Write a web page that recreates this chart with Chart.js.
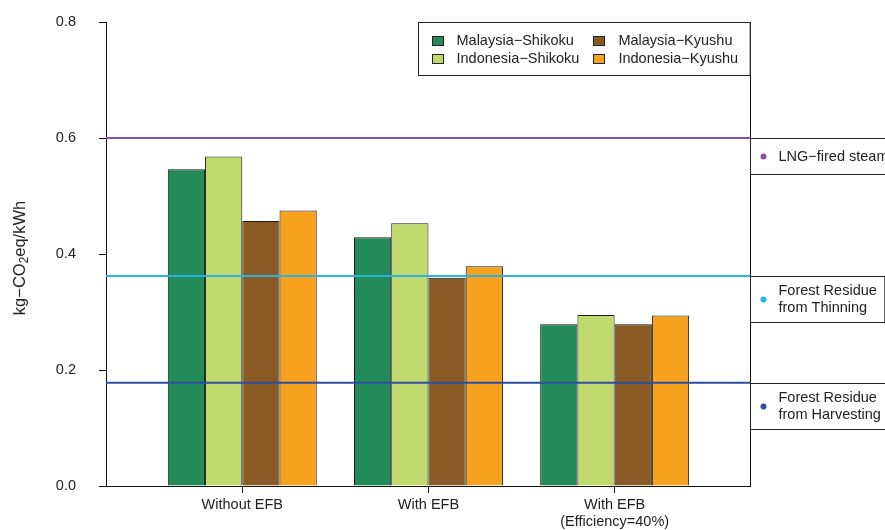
<!DOCTYPE html>
<html>
<head>
<meta charset="utf-8">
<script src="https://cdn.jsdelivr.net/npm/chart.js@4/dist/chart.umd.min.js"></script>
<style>
  html, body { margin: 0; padding: 0; background: #fff; }
  #wrap { width: 885px; height: 530px; position: relative; }
</style>
</head>
<body>
<div id="wrap"><canvas id="c" width="885" height="530"></canvas></div>
<script>
// Scenario groups on the x axis
const categories = [['Without EFB'], ['With EFB'], ['With EFB', '(Efficiency=40%)']];

// Emission intensity per supply route (kg-CO2eq/kWh)
const seriesNames = ['Malaysia\u2212Shikoku', 'Indonesia\u2212Shikoku', 'Malaysia\u2212Kyushu', 'Indonesia\u2212Kyushu'];
const malaysiaShikoku  = [0.546, 0.429, 0.279];
const indonesiaShikoku = [0.568, 0.453, 0.295];
const malaysiaKyushu   = [0.457, 0.359, 0.279];
const indonesiaKyushu  = [0.475, 0.379, 0.294];
const seriesColors = ['#238B57', '#BFD96C', '#8A5A25', '#F6A21E'];

// Reference generation options
const refNames  = [['LNG\u2212fired steam'], ['Forest Residue', 'from Thinning'], ['Forest Residue', 'from Harvesting']];
const refValues = [0.600, 0.362, 0.178];
const refColors = ['#8B4FA6', '#2BB3E6', '#2F4EA2'];

// y axis
const yTicks = [0.0, 0.2, 0.4, 0.6, 0.8];

const FONT = '"Liberation Sans", Arial, Helvetica, sans-serif';
const FS = 14.5;
const TXT = '#222';
const AXIS = '#111';

const seriesValues = [malaysiaShikoku, indonesiaShikoku, malaysiaKyushu, indonesiaKyushu];

const datasets = seriesValues.map((vals, i) => ({
  label: seriesNames[i],
  data: vals.map((v, j) => ({ x: j + 1, y: v })),
  backgroundColor: seriesColors[i],
  borderColor: '#1a1a1a',
  borderWidth: 1,
  borderSkipped: 'bottom',
  categoryPercentage: 0.8,
  barPercentage: 1.0
}));

const overlay = {
  id: 'overlay',
  afterDatasetsDraw(chart) {
    const ctx = chart.ctx;
    const a = chart.chartArea;
    const ys = chart.scales.y;
    ctx.save();
    // right frame line
    ctx.strokeStyle = AXIS;
    ctx.lineWidth = 1;
    ctx.beginPath();
    ctx.moveTo(Math.round(a.right) + 0.5, a.top);
    ctx.lineTo(Math.round(a.right) + 0.5, a.bottom);
    ctx.stroke();

    // reference lines
    refValues.forEach((v, i) => {
      const y = ys.getPixelForValue(v);
      ctx.strokeStyle = refColors[i];
      ctx.lineWidth = 2;
      ctx.beginPath();
      ctx.moveTo(a.left, y);
      ctx.lineTo(a.right, y);
      ctx.stroke();
    });

    // reference label boxes
    ctx.font = FS + 'px ' + FONT;
    ctx.textBaseline = 'middle';
    ctx.textAlign = 'left';
    refValues.forEach((v, i) => {
      const y = Math.round(ys.getPixelForValue(v)) + 0.5;
      const lines = refNames[i];
      const w = 28 + Math.max(...lines.map(t => ctx.measureText(t).width)) + 8;
      const h = lines.length === 1 ? 36 : 46;
      const x = Math.round(a.right) + 0.5;
      ctx.fillStyle = '#fff';
      ctx.fillRect(x, y, w, h);
      ctx.strokeStyle = '#222';
      ctx.lineWidth = 1;
      ctx.strokeRect(x, y, w, h);
      const cy = y + h / 2;
      ctx.fillStyle = refColors[i];
      ctx.beginPath();
      ctx.arc(x + 13, cy, 3, 0, Math.PI * 2);
      ctx.fill();
      ctx.fillStyle = TXT;
      const lh = 17.5;
      lines.forEach((t, k) => {
        ctx.fillText(t, x + 28, cy + (k - (lines.length - 1) / 2) * lh);
      });
    });

    // legend box
    const rows = [[0, 2], [1, 3]];
    const col1W = Math.max(ctx.measureText(seriesNames[0]).width, ctx.measureText(seriesNames[1]).width);
    const col2W = Math.max(ctx.measureText(seriesNames[2]).width, ctx.measureText(seriesNames[3]).width);
    const pad = 13, sw = 11, gap = 25, colGap = 14;
    const lw = pad + gap + col1W + colGap + gap + col2W + 12;
    const lx = Math.round(a.right - lw) + 0.5;
    const ly = Math.round(a.top) + 0.5;
    const lhgt = 53;
    ctx.fillStyle = '#fff';
    ctx.fillRect(lx, ly, lw, lhgt);
    ctx.strokeStyle = '#222';
    ctx.strokeRect(lx, ly, lw, lhgt);
    const colX = [lx + pad, lx + pad + gap + col1W + colGap];
    const rowY = [ly + 18, ly + 36];
    rows.forEach((r, ri) => {
      r.forEach((si, ci) => {
        const sx = Math.round(colX[ci]) + 0.5;
        const sy = Math.round(rowY[ri] - 4.5) + 0.5;
        ctx.fillStyle = seriesColors[si];
        ctx.fillRect(sx, sy, sw, 9);
        ctx.strokeStyle = '#222';
        ctx.strokeRect(sx, sy, sw, 9);
        ctx.fillStyle = TXT;
        ctx.fillText(seriesNames[si], colX[ci] + gap, rowY[ri]);
      });
    });

    // y axis title with subscript
    const TFS = 16.5;
    ctx.translate(19, (a.top + a.bottom) / 2 + 4);
    ctx.rotate(-Math.PI / 2);
    const p1 = 'kg\u2212CO', p2 = '2', p3 = 'eq/kWh';
    const big = TFS + 'px ' + FONT, small = (TFS * 0.72) + 'px ' + FONT;
    ctx.font = big; const w1 = ctx.measureText(p1).width, w3 = ctx.measureText(p3).width;
    ctx.font = small; const w2 = ctx.measureText(p2).width;
    const total = w1 + w2 + w3;
    let tx = -total / 2;
    ctx.fillStyle = TXT;
    ctx.textBaseline = 'alphabetic';
    ctx.font = big; ctx.fillText(p1, tx, 6); tx += w1;
    ctx.font = small; ctx.fillText(p2, tx, 9); tx += w2;
    ctx.font = big; ctx.fillText(p3, tx, 6);
    ctx.restore();
  }
};

new Chart(document.getElementById('c'), {
  type: 'bar',
  data: { datasets },
  options: {
    responsive: false,
    animation: false,
    layout: { padding: { top: 22, right: 135, left: 0, bottom: 0 } },
    plugins: { legend: { display: false }, tooltip: { enabled: false }, title: { display: false } },
    scales: {
      x: {
        type: 'linear',
        min: 0.268,
        max: 3.727,
        offset: false,
        afterBuildTicks(axis) { axis.ticks = categories.map((c, i) => ({ value: i + 1 })); },
        afterFit(scale) { scale.height = 44; scale.paddingLeft = 0; scale.paddingRight = 0; },
        ticks: {
          callback: (v) => { const c = categories[v - 1]; return c ? (c.length === 1 ? c[0] : c) : ''; },
          color: TXT,
          font: { family: FONT, size: FS, lineHeight: 1.2 },
          padding: 3,
          maxRotation: 0,
          autoSkip: false
        },
        grid: { offset: false, drawOnChartArea: false, drawTicks: true, tickLength: 7, color: AXIS },
        border: { display: true, color: AXIS, width: 1 }
      },
      y: {
        min: 0,
        max: 0.8,
        afterBuildTicks(axis) { axis.ticks = yTicks.map(v => ({ value: v })); },
        afterFit(scale) { scale.width = 106; scale.paddingTop = 0; scale.paddingBottom = 0; },
        ticks: {
          callback: (v) => Number(v).toFixed(1),
          color: TXT,
          font: { family: FONT, size: FS },
          padding: 23
        },
        grid: { drawOnChartArea: false, drawTicks: true, tickLength: 7, color: AXIS },
        border: { display: true, color: AXIS, width: 1 }
      }
    }
  },
  plugins: [overlay]
});
</script>
</body>
</html>
